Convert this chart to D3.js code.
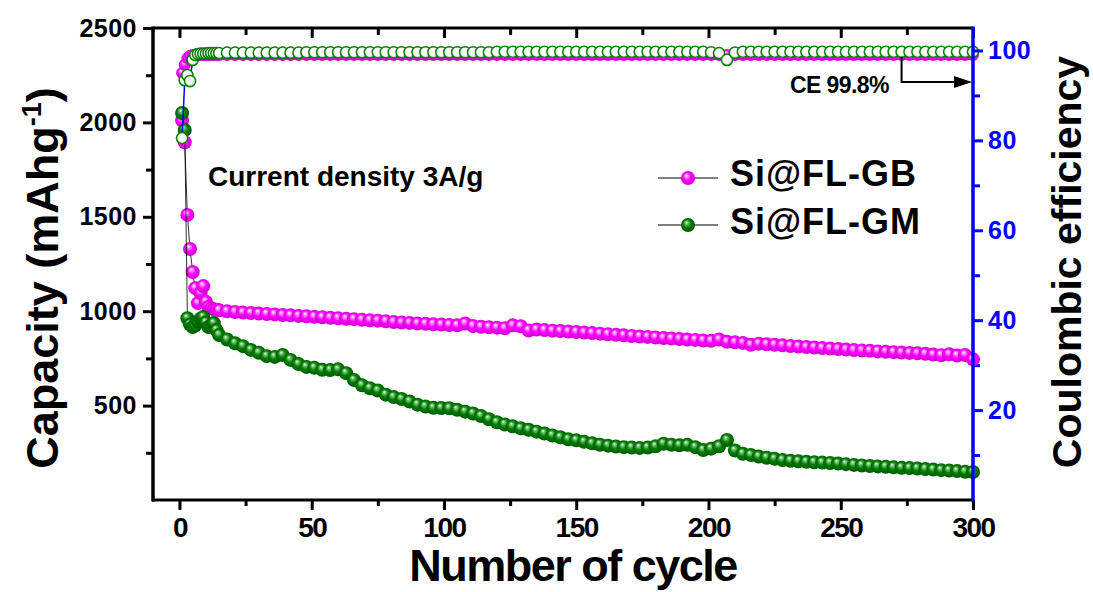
<!DOCTYPE html>
<html><head><meta charset="utf-8">
<script src="https://cdn.jsdelivr.net/npm/d3@7"></script>
<style>
body{margin:0;background:#fff}
text{font-family:"Liberation Sans",Arial,sans-serif;font-weight:bold}
</style>
</head><body>
<svg id="c" width="1093" height="592"></svg>
<script>
// ---------------- data ----------------
const cycles = [1,2,3,4,5,6,7,8,9,10,11,12,13,14,
 15,18,21,24,27,30,33,36,
 39,42,45,48,51,54,57,60,
 63,66,69,72,75,78,81,84,
 87,90,93,96,99,102,105,108,
 111,114,117,120,123,126,129,132,
 135,138,141,144,147,150,153,156,
 159,162,165,168,171,174,177,180,
 183,186,189,192,195,198,201,204,
 207,210,213,216,219,222,225,228,
 231,234,237,240,243,246,249,252,
 255,258,261,264,267,270,273,276,
 279,282,285,288,291,294,297,300];

const capGB = [2010,1895,1510,1330,1207,1122,1043,1096,1133,1050,1022,1015,1010,1008,
 1005,1000,996,993,990,988,985,983,
 980,978,975,973,970,968,965,963,
 960,958,955,952,950,947,943,940,
 938,935,933,931,929,927,925,935,
 922,918,915,913,910,925,920,898,
 903,900,897,895,892,890,887,884,
 881,878,875,872,869,866,864,861,
 858,855,853,850,848,845,843,850,
 838,835,832,822,828,825,822,819,
 816,813,810,808,805,802,800,797,
 794,792,790,787,785,783,781,779,
 777,774,770,767,772,765,768,745];

const capGM = [2050,1960,963,930,916,925,945,960,969,940,916,925,937,900,
 874,850,830,815,795,780,762,758,
 768,742,720,705,700,690,688,692,
 672,635,608,592,580,558,545,535,
 522,505,495,488,487,486,478,468,
 458,445,428,412,400,390,380,372,
 362,352,342,332,322,316,308,300,
 293,288,283,280,278,276,278,285,
 298,292,290,292,280,265,272,285,
 318,262,245,238,230,224,218,212,
 208,205,202,200,198,196,193,190,
 186,183,180,178,176,173,171,169,
 167,164,161,158,156,153,150,148];

const ceGB = [95.0,96.8,98.3,98.8,99.0,99.0,99.0,99.0,99.0,99.0,99.0,99.0,99.0,99.0,
 99.0,99.0,99.0,99.0,99.0,99.0,99.0,99.0,
 99.0,99.0,99.0,99.0,99.0,99.0,99.0,99.0,
 99.0,99.0,99.0,99.0,99.0,99.0,99.0,99.0,
 99.0,99.0,99.0,99.0,99.0,99.0,99.0,99.0,
 99.0,99.0,99.0,99.0,99.0,99.0,99.0,99.0,
 99.0,99.0,99.0,99.0,99.0,99.0,99.0,99.0,
 99.0,99.0,99.0,99.0,99.0,99.0,99.0,99.0,
 99.0,99.0,99.0,99.0,99.0,99.0,99.0,99.0,
 99.0,99.0,99.0,99.0,99.0,99.0,99.0,99.0,
 99.0,99.0,99.0,99.0,99.0,99.0,99.0,99.0,
 99.0,99.0,99.0,99.0,99.0,99.0,99.0,99.0,
 99.0,99.0,99.0,99.0,99.0,99.0,99.0,99.0];

const ceGM = [80.5,93.4,94.5,93.2,97.9,99.0,99.2,99.3,99.3,99.3,99.4,99.4,99.4,99.4,
 99.4,99.5,99.5,99.5,99.5,99.5,99.5,99.5,
 99.5,99.5,99.5,99.6,99.6,99.6,99.6,99.6,
 99.6,99.6,99.6,99.6,99.6,99.6,99.6,99.6,
 99.6,99.6,99.6,99.6,99.6,99.6,99.6,99.6,
 99.6,99.6,99.6,99.7,99.7,99.7,99.7,99.7,
 99.7,99.7,99.7,99.7,99.7,99.7,99.7,99.7,
 99.7,99.7,99.7,99.7,99.7,99.7,99.7,99.7,
 99.7,99.7,99.7,99.7,99.7,99.7,99.6,99.4,
 97.9,99.5,99.7,99.7,99.7,99.7,99.7,99.7,
 99.7,99.7,99.7,99.7,99.7,99.7,99.7,99.7,
 99.7,99.7,99.7,99.7,99.7,99.7,99.7,99.7,
 99.7,99.7,99.7,99.7,99.7,99.7,99.7,99.7];

const seriesNames = ["Si@FL-GB", "Si@FL-GM"];
const xMajor = [0,50,100,150,200,250,300];
const xMinor = [25,75,125,175,225,275];
const capMajor = [500,1000,1500,2000,2500];
const capMinor = [250,750,1250,1750,2250];
const ceMajor = [20,40,60,80,100];
const ceMinor = [10,30,50,70,90];
const xTitle = "Number of cycle";
const yTitle = "Capacity (mAhg";
const y2Title = "Coulombic efficiency";
const note1 = "Current density 3A/g";
const note2 = "CE 99.8%";

// ---------------- layout ----------------
const L=153, R=973, T=28, B=500;
const svg = d3.select("#c");
const x = d3.scaleLinear().domain([-10,300]).range([L,R]);
const yC = d3.scaleLinear().domain([0,2500]).range([B,T]);
const yE = d3.scaleLinear().domain([0,105]).range([B,T]);
const fmt = d3.format("d");

const defs = svg.append("defs");
function ball(id, stops){
  const g = defs.append("radialGradient").attr("id",id)
    .attr("cx","50%").attr("cy","50%").attr("r","55%").attr("fx","38%").attr("fy","30%");
  stops.forEach(s=>g.append("stop").attr("offset",s[0]).attr("stop-color",s[1]));
}
ball("gMag",[["0%","#ffffff"],["18%","#ff9cff"],["50%","#ff00ff"],["100%","#c800c8"]]);
ball("gGrn",[["0%","#ffffff"],["18%","#7cc87c"],["50%","#008000"],["100%","#005200"]]);
ball("gOpen",[["0%","#ffffff"],["60%","#ffffff"],["100%","#a9d4a9"]]);

// ---------------- axes ----------------
function styleAxis(g, color, fs){
  g.select(".domain").remove();
  g.selectAll(".tick line").attr("stroke",color).attr("stroke-width",3);
  g.selectAll(".tick text").attr("fill",color).style("font-size",fs+"px");
}
const gxM = svg.append("g").attr("transform",`translate(0,${B})`)
  .call(d3.axisBottom(x).tickValues(xMajor).tickFormat(fmt).tickSize(10).tickPadding(7));
styleAxis(gxM,"#000",28);
gxM.selectAll(".tick text").style("letter-spacing","-1.5px");
const gxm = svg.append("g").attr("transform",`translate(0,${B})`)
  .call(d3.axisBottom(x).tickValues(xMinor).tickSize(6).tickFormat(""));
styleAxis(gxm,"#000",10);
// top (inward)
const gtM = svg.append("g").attr("transform",`translate(0,${T})`)
  .call(d3.axisBottom(x).tickValues(xMajor).tickSize(10).tickFormat(""));
styleAxis(gtM,"#000",10);
const gtm = svg.append("g").attr("transform",`translate(0,${T})`)
  .call(d3.axisBottom(x).tickValues(xMinor).tickSize(7).tickFormat(""));
styleAxis(gtm,"#000",10);
// left
const gyM = svg.append("g").attr("transform",`translate(${L},0)`)
  .call(d3.axisLeft(yC).tickValues(capMajor).tickFormat(fmt).tickSize(10).tickPadding(6));
styleAxis(gyM,"#000",25);
gyM.selectAll(".tick text").style("letter-spacing","0.5px");
const gym = svg.append("g").attr("transform",`translate(${L},0)`)
  .call(d3.axisLeft(yC).tickValues(capMinor).tickSize(7).tickFormat(""));
styleAxis(gym,"#000",10);
// right
const grM = svg.append("g").attr("transform",`translate(${R},0)`)
  .call(d3.axisRight(yE).tickValues(ceMajor).tickFormat(fmt).tickSize(10).tickPadding(5));
styleAxis(grM,"#0000ff",25);
grM.selectAll(".tick text").style("letter-spacing","0.5px");
const grm = svg.append("g").attr("transform",`translate(${R},0)`)
  .call(d3.axisRight(yE).tickValues(ceMinor).tickSize(7).tickFormat(""));
styleAxis(grm,"#0000ff",10);

// frame
svg.append("line").attr("x1",L).attr("x2",R).attr("y1",T).attr("y2",T).attr("stroke","#000").attr("stroke-width",3);
svg.append("line").attr("x1",L-1).attr("x2",R).attr("y1",B).attr("y2",B).attr("stroke","#000").attr("stroke-width",3);
svg.append("line").attr("x1",L).attr("x2",L).attr("y1",T-1.5).attr("y2",B+1.5).attr("stroke","#000").attr("stroke-width",3.5);

// ---------------- data marks ----------------
const idx = d3.range(cycles.length);
const lineC = vals => d3.line().x(i=>x(cycles[i])).y(i=>yC(vals[i]))(idx);
const lineE = vals => d3.line().x(i=>x(cycles[i])).y(i=>yE(vals[i]))(idx);

svg.append("path").attr("d",lineC(capGB)).attr("fill","none").attr("stroke","#000").attr("stroke-width",0.8);
svg.append("g").selectAll("circle").data(idx).join("circle")
  .attr("cx",i=>x(cycles[i])).attr("cy",i=>yC(capGB[i])).attr("r",7).attr("fill","url(#gMag)");

svg.append("path").attr("d",lineC(capGM)).attr("fill","none").attr("stroke","#000").attr("stroke-width",0.8);
svg.append("g").selectAll("circle").data(idx).join("circle")
  .attr("cx",i=>x(cycles[i])).attr("cy",i=>yC(capGM[i])).attr("r",7).attr("fill","url(#gGrn)");

svg.append("g").selectAll("circle").data(idx).join("circle")
  .attr("cx",i=>x(cycles[i])).attr("cy",i=>yE(ceGB[i])).attr("r",6).attr("fill","url(#gMag)");

svg.append("path").attr("d",lineE(ceGM)).attr("fill","none").attr("stroke","#0000ff").attr("stroke-width",1.5);
svg.append("g").selectAll("circle").data(idx).join("circle")
  .attr("cx",i=>x(cycles[i])).attr("cy",i=>yE(ceGM[i])).attr("r",5.6)
  .attr("fill","url(#gOpen)").attr("stroke","#008000").attr("stroke-width",1.5);

gyM.raise(); grM.raise();
svg.append("line").attr("x1",R).attr("x2",R).attr("y1",T-1.5).attr("y2",B+1.5).attr("stroke","#0000ff").attr("stroke-width",3.5);

// ---------------- titles ----------------
svg.append("text").attr("x",573).attr("y",581).attr("text-anchor","middle")
  .style("font-size","45px").style("letter-spacing","-1.5px").text(xTitle);

const yt = svg.append("text").attr("transform","translate(58,278) rotate(-90)").attr("text-anchor","middle")
  .style("font-size","45px");
yt.append("tspan").text(yTitle);
yt.append("tspan").attr("dy",-17).style("font-size","27px").text("-1");
yt.append("tspan").attr("dy",17).text(")");

svg.append("text").attr("transform","translate(1081,262) rotate(-90)").attr("text-anchor","middle")
  .style("font-size","41px").text(y2Title);

// annotations
svg.append("text").attr("x",208).attr("y",186).style("font-size","28px").text(note1);
svg.append("text").attr("x",790).attr("y",93).style("font-size","23px").style("letter-spacing","-0.6px").text(note2);
const ax0 = x(273), ay0 = yE(98.6), ay1 = yE(93), ax1 = x(300);
svg.append("path").attr("d",`M${ax0},${ay0}V${ay1}H${ax1-17}`).attr("fill","none").attr("stroke","#000").attr("stroke-width",2);
svg.append("path").attr("d",`M${ax1-19},${ay1-6}L${ax1-1},${ay1}L${ax1-19},${ay1+6}Z`).attr("fill","#000");

// legend
const lg = [{name:seriesNames[0],fill:"url(#gMag)",y:178},{name:seriesNames[1],fill:"url(#gGrn)",y:225}];
const leg = svg.append("g");
lg.forEach(d=>{
  leg.append("line").attr("x1",658).attr("x2",718).attr("y1",d.y).attr("y2",d.y).attr("stroke","#000").attr("stroke-width",1);
  leg.append("circle").attr("cx",688).attr("cy",d.y).attr("r",7).attr("fill",d.fill);
  leg.append("text").attr("x",730).attr("y",d.y+(d.y===178?8:9))
    .style("font-size","36px").style("letter-spacing","1px").text(d.name);
});
</script>
</body></html>
